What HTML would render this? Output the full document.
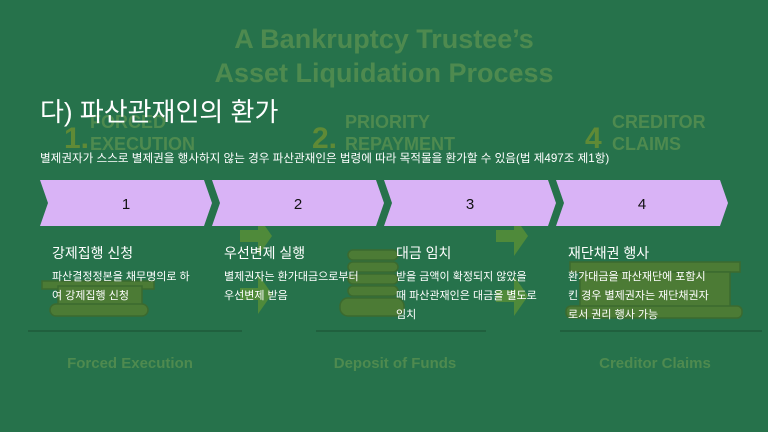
<!DOCTYPE html>
<html><head><meta charset="utf-8"><style>
body{margin:0;width:768px;height:432px;overflow:hidden;background:#26724b;font-family:"Liberation Sans","Noto Sans CJK KR",sans-serif;}
svg{position:absolute;left:0;top:0}
.t{position:absolute;color:#fff;white-space:nowrap}
</style></head><body>
<svg width="768" height="432">
<g fill="#4e8a4f" font-family="Liberation Sans, sans-serif" font-weight="bold">
<text x="384" y="48" font-size="27" text-anchor="middle">A Bankruptcy Trustee’s</text>
<text x="384" y="82" font-size="27" text-anchor="middle">Asset Liquidation Process</text>
<text x="90" y="128" font-size="18">FORCED</text>
<text x="90" y="150" font-size="18">EXECUTION</text>
<text x="64" y="148" font-size="30" fill="#5f8a36">1.</text>
<text x="345" y="128" font-size="18">PRIORITY</text>
<text x="345" y="150" font-size="18">REPAYMENT</text>
<text x="312" y="148" font-size="30" fill="#5f8a36">2.</text>
<text x="612" y="128" font-size="18">CREDITOR</text>
<text x="612" y="150" font-size="18">CLAIMS</text>
<text x="585" y="148" font-size="30" fill="#5f8a36">4</text>
<text x="130" y="368" font-size="15" text-anchor="middle">Forced Execution</text>
<text x="395" y="368" font-size="15" text-anchor="middle">Deposit of Funds</text>
<text x="655" y="368" font-size="15" text-anchor="middle">Creditor Claims</text>
</g>
<g fill="#4c7b35" stroke="#3b6a2f" stroke-width="1.5">
<rect x="42" y="281" width="112" height="8"/>
<rect x="58" y="286" width="84" height="22"/>
<rect x="50" y="304" width="98" height="12" rx="6"/>
<rect x="348" y="250" width="50" height="10" rx="5"/>
<rect x="348" y="262" width="50" height="10" rx="5"/>
<rect x="348" y="274" width="50" height="10" rx="5"/>
<rect x="348" y="286" width="50" height="10" rx="5"/>
<rect x="340" y="298" width="64" height="18" rx="8"/>
<rect x="570" y="262" width="170" height="10"/>
<rect x="580" y="272" width="150" height="38"/>
<rect x="566" y="306" width="176" height="12" rx="5"/>
<path d="M240 230h18v-14l14 20-14 20v-14h-18z" stroke="none" fill="#4f8a3a"/>
<path d="M240 288h18v-14l14 20-14 20v-14h-18z" stroke="none" fill="#4f8a3a"/>
<path d="M496 230h18v-14l14 20-14 20v-14h-18z" stroke="none" fill="#4f8a3a"/>
<path d="M496 290h18v-14l14 20-14 20v-14h-18z" stroke="none" fill="#4f8a3a"/>
</g>
<g stroke="#1f5a3a" stroke-width="1.5"><line x1="28" y1="331" x2="242" y2="331"/><line x1="316" y1="331" x2="486" y2="331"/><line x1="560" y1="331" x2="762" y2="331"/></g>
<g fill="#d9b3f6">
<polygon points="40,180 204,180 212,203 204,226 40,226 48,203"/>
<polygon points="212,180 376,180 384,203 376,226 212,226 220,203"/>
<polygon points="384,180 548,180 556,203 548,226 384,226 392,203"/>
<polygon points="556,180 720,180 728,203 720,226 556,226 564,203"/>
</g>
<g font-size="15" fill="#111" text-anchor="middle" font-family="Liberation Sans, sans-serif">
<text x="126" y="209">1</text><text x="298" y="209">2</text><text x="470" y="209">3</text><text x="642" y="209">4</text>
</g>
</svg>
<div class="t" style="left:40px;top:92px;font-size:26px">다) 파산관재인의 환가</div>
<div class="t" style="left:40px;top:150px;font-size:11.6px">별제권자가 스스로 별제권을 행사하지 않는 경우 파산관재인은 법령에 따라 목적물을 환가할 수 있음(법 제497조 제1항)</div>
<div class="t" style="left:52px;top:243px;font-size:14px">강제집행 신청</div>
<div class="t" style="left:224px;top:243px;font-size:14px">우선변제 실행</div>
<div class="t" style="left:396px;top:243px;font-size:14px">대금 임치</div>
<div class="t" style="left:568px;top:243px;font-size:14px">재단채권 행사</div>
<div class="t" style="left:52px;top:268px;font-size:11px;line-height:19px">파산결정정본을 채무명의로 하<br>여 강제집행 신청</div>
<div class="t" style="left:224px;top:268px;font-size:11px;line-height:19px">별제권자는 환가대금으로부터<br>우선변제 받음</div>
<div class="t" style="left:396px;top:268px;font-size:11px;line-height:19px">받을 금액이 확정되지 않았을<br>때 파산관재인은 대금을 별도로<br>임치</div>
<div class="t" style="left:568px;top:268px;font-size:11px;line-height:19px">환가대금을 파산재단에 포함시<br>킨 경우 별제권자는 재단채권자<br>로서 권리 행사 가능</div>
</body></html>
